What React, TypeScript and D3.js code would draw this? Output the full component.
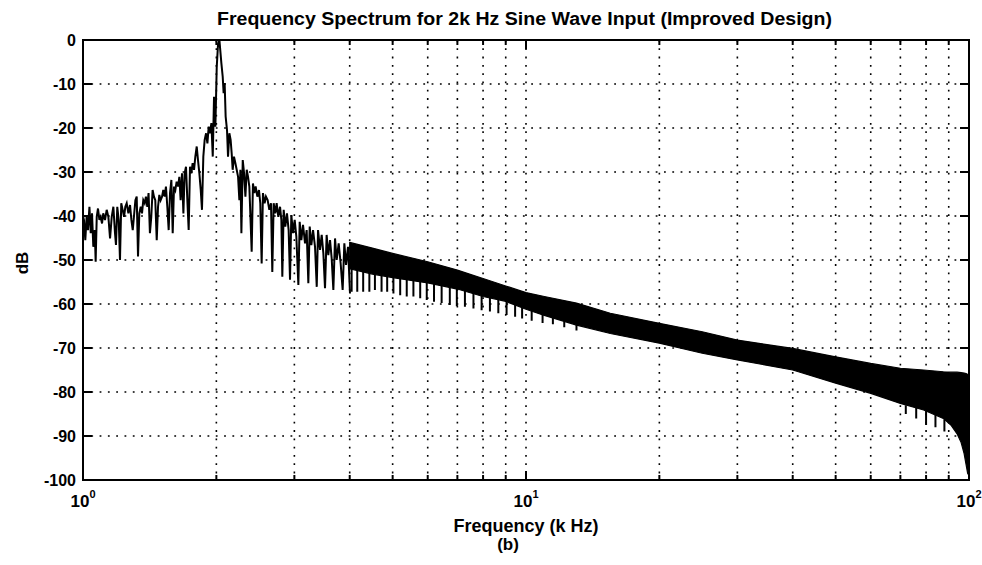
import React from 'react';
import * as d3 from 'd3';

const W = 982;
const H = 565;

const titleText = 'Frequency Spectrum for 2k Hz Sine Wave Input (Improved Design)';
const xLabelText = 'Frequency (k Hz)';
const subLabelText = '(b)';
const yLabelText = 'dB';

const yTickValues = [0, -10, -20, -30, -40, -50, -60, -70, -80, -90, -100];
const xMajorTicks = [1, 10, 100];
const xMinorTicks = [2, 3, 4, 5, 6, 7, 8, 9, 20, 30, 40, 50, 60, 70, 80, 90];
const xGridValues = [2, 3, 4, 5, 6, 7, 8, 9, 10, 20, 30, 40, 50, 60, 70, 80, 90];
const yGridValues = [-10, -20, -30, -40, -50, -60, -70, -80, -90];

// Resolved spectrum trace below 4 kHz: [frequency kHz, level dB]
const spectrumLow: [number, number][] = [
  [1.000, -40.0], [1.005, -40.9], [1.012, -45.5], [1.019, -40.2], [1.026, -43.2], [1.034, -37.9],
  [1.041, -43.9], [1.048, -39.4], [1.055, -47.0], [1.063, -43.2], [1.068, -50.4], [1.074, -40.2],
  [1.081, -38.3], [1.089, -40.9], [1.096, -40.2], [1.104, -41.7], [1.111, -39.4], [1.121, -40.9],
  [1.131, -38.6], [1.141, -40.2], [1.151, -45.1], [1.161, -40.2], [1.171, -37.9], [1.181, -43.9],
  [1.187, -46.6], [1.195, -37.9], [1.204, -40.9], [1.212, -50.0], [1.220, -37.1], [1.229, -38.6],
  [1.238, -40.2], [1.246, -37.9], [1.255, -37.1], [1.266, -39.4], [1.277, -37.5], [1.286, -40.9],
  [1.295, -43.2], [1.303, -40.2], [1.313, -36.4], [1.322, -35.6], [1.331, -49.2], [1.340, -39.4],
  [1.350, -37.9], [1.359, -39.4], [1.368, -36.4], [1.378, -37.1], [1.387, -35.6], [1.397, -37.9],
  [1.406, -34.8], [1.416, -43.9], [1.426, -40.2], [1.436, -34.1], [1.446, -35.6], [1.456, -36.4],
  [1.467, -45.5], [1.477, -37.9], [1.487, -35.2], [1.497, -36.4], [1.508, -35.6], [1.518, -34.1],
  [1.529, -35.6], [1.539, -33.3], [1.550, -37.9], [1.561, -43.2], [1.572, -34.8], [1.583, -31.8],
  [1.594, -43.9], [1.605, -33.3], [1.616, -34.1], [1.627, -32.2], [1.639, -33.3], [1.650, -31.1],
  [1.661, -36.4], [1.673, -30.3], [1.685, -39.4], [1.696, -30.3], [1.708, -28.8], [1.720, -36.4],
  [1.732, -43.2], [1.744, -28.8], [1.756, -30.3], [1.768, -28.0], [1.781, -29.5], [1.793, -26.5],
  [1.806, -24.2], [1.818, -27.3], [1.831, -30.3], [1.844, -34.1], [1.856, -38.6], [1.869, -26.5],
  [1.882, -22.7], [1.896, -21.2], [1.909, -23.5], [1.922, -19.7], [1.935, -21.2], [1.949, -18.9],
  [1.963, -26.5], [1.976, -12.9], [1.990, -19.7], [2.004, -6.1], [2.018, -0.8], [2.032, 0.0],
  [2.053, -5.3], [2.067, -8.3], [2.077, -12.1], [2.088, -9.8], [2.099, -17.4], [2.114, -20.5],
  [2.125, -26.5], [2.140, -21.2], [2.154, -22.7], [2.166, -25.8], [2.177, -29.5], [2.192, -26.5],
  [2.208, -28.0], [2.223, -29.5], [2.239, -31.1], [2.254, -36.4], [2.266, -29.5], [2.278, -43.9],
  [2.294, -27.3], [2.310, -30.3], [2.326, -35.6], [2.342, -29.5], [2.358, -31.1], [2.374, -33.3],
  [2.386, -39.4], [2.403, -48.1], [2.419, -32.6], [2.436, -34.8], [2.453, -33.3], [2.475, -35.6],
  [2.496, -34.1], [2.513, -37.1], [2.531, -50.8], [2.548, -34.8], [2.570, -37.1], [2.588, -35.6],
  [2.611, -36.4], [2.634, -38.6], [2.657, -37.1], [2.675, -52.7], [2.694, -37.1], [2.717, -39.4],
  [2.736, -37.1], [2.760, -40.2], [2.785, -37.9], [2.804, -40.9], [2.818, -53.8], [2.838, -38.6],
  [2.862, -42.4], [2.887, -39.4], [2.912, -43.2], [2.933, -54.5], [2.953, -39.8], [2.979, -43.9],
  [3.005, -40.9], [3.031, -44.7], [3.063, -55.7], [3.084, -41.3], [3.111, -45.5], [3.138, -42.0],
  [3.171, -46.2], [3.198, -43.2], [3.226, -55.3], [3.249, -42.4], [3.277, -46.6], [3.306, -43.2],
  [3.340, -47.0], [3.370, -56.1], [3.393, -43.2], [3.428, -47.7], [3.458, -44.3], [3.488, -48.5],
  [3.518, -56.4], [3.548, -44.3], [3.579, -48.9], [3.611, -45.5], [3.642, -49.6], [3.674, -56.8],
  [3.706, -45.1], [3.738, -50.0], [3.777, -46.2], [3.816, -50.8], [3.856, -56.8], [3.890, -46.2],
  [3.924, -51.1], [3.965, -47.0], [4.006, -57.6],
];

// Dense band above 4 kHz (unresolved oscillation): envelope
const bandFreq = [4.0, 4.5, 5.0, 6.0, 7.0, 8.0, 9.0, 10, 11, 13, 15.5, 20, 25, 30, 40, 50, 60, 70, 79, 87.5, 91, 94, 96, 97.5, 98.5, 99.3, 100];
const bandTop = [-46.0, -47.3, -48.5, -50.4, -52.3, -54.2, -55.9, -57.4, -58.3, -59.8, -62.1, -64.4, -66.3, -68.2, -70.1, -72.0, -73.5, -74.6, -75.0, -75.4, -75.5, -75.5, -75.6, -75.7, -75.8, -76.0, -76.0];
const bandBottom = [-52.0, -53.2, -54.0, -55.2, -56.6, -58.3, -59.4, -61.2, -62.6, -64.8, -66.7, -68.9, -71.2, -72.7, -75.0, -78.0, -80.3, -82.6, -84.1, -86.0, -87.5, -89.5, -91.5, -94.0, -96.5, -98.5, -99.0];

// Downward spikes hanging below the dense band
const dipFreq = [4.04, 4.16, 4.29, 4.43, 4.56, 4.72, 4.86, 5.02, 5.20, 5.38, 5.57, 5.77, 5.97, 6.20, 6.45, 6.73, 6.98, 7.28, 7.61, 7.94, 8.29, 8.66, 9.04, 9.45, 9.8, 10.3, 10.9, 11.5, 12.2, 13.0, 72, 76, 80, 84, 88];
const dipFrom = [-51.6, -51.9, -52.2, -52.5, -52.8, -53.0, -53.2, -53.4, -53.6, -53.8, -54.0, -54.2, -54.5, -54.8, -55.2, -55.6, -56.1, -56.6, -57.3, -57.9, -58.3, -58.7, -59.2, -60.0, -60.8, -61.6, -62.4, -63.2, -63.9, -64.6, -83.0, -83.6, -84.3, -85.2, -86.2];
const dipTo = [-57.2, -57.2, -57.2, -57.2, -56.8, -57.2, -57.2, -57.6, -58.0, -58.3, -58.3, -58.7, -59.1, -59.5, -59.8, -60.2, -60.5, -60.6, -61.0, -61.4, -61.7, -62.1, -62.5, -62.9, -63.3, -63.8, -64.3, -64.6, -65.3, -66.0, -85.0, -86.0, -87.5, -88.0, -89.0];

const FONT = '"Liberation Sans", Arial, Helvetica, sans-serif';

export default function App() {
  const x = d3.scaleLog().domain([1, 100]).range([83, 969]);
  const y = d3.scaleLinear().domain([-100, 0]).range([480, 40]);
  const [x0, x1] = x.range();
  const [y0, y1] = y.range(); // y0 bottom, y1 top

  const line = d3
    .line<[number, number]>()
    .x((d) => x(d[0]))
    .y((d) => y(d[1]));

  const bandRows = bandFreq.map((f, i) => ({ f, top: bandTop[i], bottom: bandBottom[i] }));
  const area = d3
    .area<{ f: number; top: number; bottom: number }>()
    .x((d) => x(d.f))
    .y0((d) => y(d.bottom))
    .y1((d) => y(d.top));

  const dipPath = dipFreq
    .map((f, i) => `M${x(f)},${y(dipFrom[i])}L${x(f)},${y(dipTo[i])}`)
    .join('');

  const gridStyle = {
    stroke: '#000',
    strokeWidth: 1.6,
    strokeDasharray: '1.8 6.5',
    fill: 'none',
  } as const;

  return (
    <svg
      width={W}
      height={H}
      viewBox={`0 0 ${W} ${H}`}
      style={{ position: 'absolute', left: 0, top: 0, background: '#fff' }}
    >
      <rect x={0} y={0} width={W} height={H} fill="#fff" />

      {/* grid */}
      {yGridValues.map((v) => (
        <line key={`gy${v}`} x1={x0} x2={x1} y1={y(v)} y2={y(v)} style={gridStyle} />
      ))}
      {xGridValues.map((v) => (
        <line key={`gx${v}`} x1={x(v)} x2={x(v)} y1={y1} y2={y0} style={gridStyle} />
      ))}

      {/* data */}
      <path d={area(bandRows) || ''} fill="#000" stroke="#000" strokeWidth={1.2} />
      <path d={dipPath} stroke="#000" strokeWidth={2} fill="none" />
      <path d={line(spectrumLow) || ''} stroke="#000" strokeWidth={2} fill="none" strokeLinejoin="miter" />

      {/* axes box */}
      <rect x={x0} y={y1} width={x1 - x0} height={y0 - y1} fill="none" stroke="#000" strokeWidth={2} />

      {/* y ticks */}
      {yTickValues.map((v) => (
        <g key={`yt${v}`}>
          <line x1={x0} x2={x0 + 9} y1={y(v)} y2={y(v)} stroke="#000" strokeWidth={2} />
          <line x1={x1} x2={x1 - 9} y1={y(v)} y2={y(v)} stroke="#000" strokeWidth={2} />
          <text
            x={76}
            y={y(v) + 5.5}
            textAnchor="end"
            fontFamily={FONT}
            fontWeight="bold"
            fontSize={16}
          >
            {v}
          </text>
        </g>
      ))}

      {/* x ticks */}
      {xMajorTicks.map((v) => (
        <g key={`xM${v}`}>
          <line x1={x(v)} x2={x(v)} y1={y0} y2={y0 - 9} stroke="#000" strokeWidth={2} />
          <line x1={x(v)} x2={x(v)} y1={y1} y2={y1 + 9} stroke="#000" strokeWidth={2} />
          <text
            x={x(v)}
            y={507}
            textAnchor="middle"
            fontFamily={FONT}
            fontWeight="bold"
            fontSize={17}
          >
            10
            <tspan dy={-9} fontSize={11}>
              {Math.round(Math.log10(v))}
            </tspan>
          </text>
        </g>
      ))}
      {xMinorTicks.map((v) => (
        <g key={`xm${v}`}>
          <line x1={x(v)} x2={x(v)} y1={y0} y2={y0 - 5} stroke="#000" strokeWidth={2} />
          <line x1={x(v)} x2={x(v)} y1={y1} y2={y1 + 5} stroke="#000" strokeWidth={2} />
        </g>
      ))}

      {/* titles */}
      <text
        x={217}
        y={25}
        fontFamily={FONT}
        fontWeight="bold"
        fontSize={18}
        textLength={615}
        lengthAdjust="spacingAndGlyphs"
      >
        {titleText}
      </text>
      <text
        x={(x0 + x1) / 2}
        y={532}
        textAnchor="middle"
        fontFamily={FONT}
        fontWeight="bold"
        fontSize={18}
      >
        {xLabelText}
      </text>
      <text
        x={(x0 + x1) / 2 - 18}
        y={550}
        textAnchor="middle"
        fontFamily={FONT}
        fontWeight="bold"
        fontSize={17}
      >
        {subLabelText}
      </text>
      <text
        transform="translate(27.5,263) rotate(-90)"
        textAnchor="middle"
        fontFamily={FONT}
        fontWeight="bold"
        fontSize={17}
      >
        {yLabelText}
      </text>
    </svg>
  );
}
